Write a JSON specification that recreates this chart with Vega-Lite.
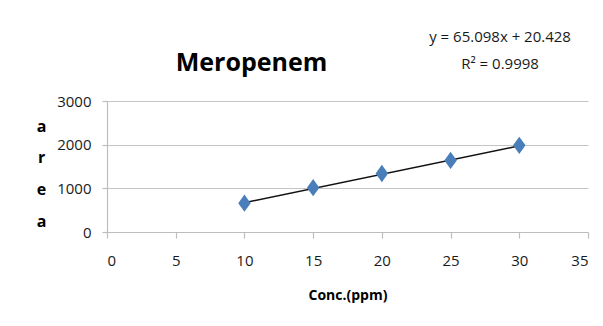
{
  "$schema": "https://vega.github.io/schema/vega-lite/v6.json",
  "width": 481,
  "height": 131,
  "autosize": {"type": "none"},
  "padding": {"left": 107, "top": 101, "right": 15, "bottom": 94},
  "background": "#ffffff",
  "title": {
    "text": "Meropenem",
    "frame": "group",
    "anchor": "middle",
    "dx": -96,
    "offset": -66,
    "baseline": "alphabetic",
    "font": "Open Sans",
    "fontSize": 25,
    "fontWeight": "bold",
    "color": "#000000"
  },
  "config": {
    "view": {"stroke": null},
    "font": "Open Sans",
    "axis": {
      "labelFont": "Open Sans",
      "labelFontSize": 15,
      "labelColor": "#1a1a1a",
      "domainColor": "#bdbdbd",
      "domainWidth": 1.2,
      "tickColor": "#bdbdbd",
      "tickWidth": 1.2,
      "gridColor": "#c4c4c4",
      "gridWidth": 1.2
    }
  },
  "layer": [
    {
      "data": {"values": [{"x": 10, "y": 671.4}, {"x": 30, "y": 1973.4}]},
      "mark": {"type": "line", "color": "#111111", "strokeWidth": 1.5},
      "encoding": {
        "x": {"field": "x", "type": "quantitative", "scale": {"domain": [0, 35], "nice": false, "zero": false},
          "axis": {
            "values": [0, 5, 10, 15, 20, 25, 30, 35],
            "grid": false,
            "tickSize": 6,
            "labelPadding": 15,
            "title": "Conc.(ppm)",
            "titleFont": "Open Sans",
            "titleFontSize": 14,
            "titleFontWeight": "bold",
            "titleColor": "#000000",
            "titleBaseline": "alphabetic",
            "titleY": 67
          }},
        "y": {"field": "y", "type": "quantitative", "scale": {"domain": [0, 3000], "nice": false},
          "axis": {
            "values": [0, 1000, 2000, 3000],
            "format": "d",
            "grid": true,
            "tickSize": 5,
            "labelPadding": 11,
            "title": ["a", "r", "e", "a"],
            "titleAngle": 0,
            "titleAlign": "center",
            "titleBaseline": "middle",
            "titleLineHeight": 31.7,
            "titleX": -66,
            "titleY": 25,
            "titleFont": "Open Sans",
            "titleFontSize": 16,
            "titleFontWeight": "bold",
            "titleColor": "#000000"
          }}
      }
    },
    {
      "data": {"values": [
        {"conc": 10, "area": 660},
        {"conc": 15, "area": 1015},
        {"conc": 20, "area": 1340},
        {"conc": 25, "area": 1640},
        {"conc": 30, "area": 1985}
      ]},
      "mark": {"type": "point", "shape": "M-0.72,0L0,-1L0.72,0L0,1Z", "filled": true, "opacity": 1, "size": 300, "color": "#4a7ebb"},
      "encoding": {
        "x": {"field": "conc", "type": "quantitative", "scale": {"domain": [0, 35], "nice": false, "zero": false}},
        "y": {"field": "area", "type": "quantitative", "scale": {"domain": [0, 3000], "nice": false}}
      }
    },
    {
      "data": {"values": [{"label": "y = 65.098x + 20.428"}]},
      "mark": {"type": "text", "font": "Open Sans", "fontSize": 15, "color": "#1a1a1a", "align": "center", "baseline": "alphabetic"},
      "encoding": {
        "x": {"datum": 28.6, "type": "quantitative", "scale": {"domain": [0, 35], "nice": false, "zero": false}},
        "y": {"datum": 4354, "type": "quantitative", "scale": {"domain": [0, 3000], "nice": false}},
        "text": {"field": "label"}
      }
    },
    {
      "data": {"values": [{"label": "R² = 0.9998"}]},
      "mark": {"type": "text", "font": "Open Sans", "fontSize": 15, "color": "#1a1a1a", "align": "center", "baseline": "alphabetic"},
      "encoding": {
        "x": {"datum": 28.6, "type": "quantitative", "scale": {"domain": [0, 35], "nice": false, "zero": false}},
        "y": {"datum": 3734, "type": "quantitative", "scale": {"domain": [0, 3000], "nice": false}},
        "text": {"field": "label"}
      }
    }
  ]
}
